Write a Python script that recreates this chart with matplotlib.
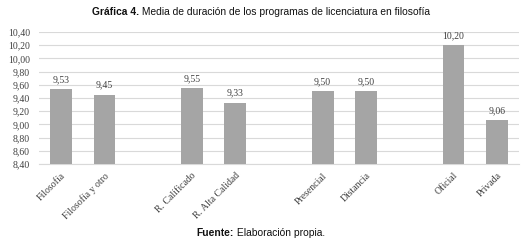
import matplotlib
matplotlib.use("Agg")
import matplotlib.pyplot as plt
import numpy as np

categories = ["Filosofía", "Filosofía y otro", "", "R. Calificado", "R. Alta Calidad", "",
              "Presencial", "Distancia", "", "Oficial", "Privada"]
values = [9.53, 9.45, None, 9.55, 9.33, None, 9.50, 9.50, None, 10.20, 9.06]
yticks = [8.40, 8.60, 8.80, 9.00, 9.20, 9.40, 9.60, 9.80, 10.00, 10.20, 10.40]

W, H = 526, 242
fig = plt.figure(figsize=(W / 100, H / 100), dpi=100)
ax = fig.add_axes([39 / W, 1 - 164 / H, (519 - 39) / W, (164 - 32) / H])

serif = "Liberation Serif"
txtc = "#404040"
x = np.arange(len(categories))
base = yticks[0]
for xi, v in zip(x, values):
    if v is None:
        continue
    ax.bar(xi, v - base, bottom=base, width=0.5, color="#a5a5a5", zorder=3)
    ax.text(xi, v + 0.08, f"{v:.2f}".replace(".", ","), ha="center", va="bottom",
            fontsize=7, family=serif, color=txtc)

ax.set_xlim(-0.5, len(categories) - 0.5)
ax.set_ylim(yticks[0], yticks[-1])
ax.set_yticks(yticks)
ax.set_yticklabels([f"{t:.2f}".replace(".", ",") for t in yticks], family=serif,
                   fontsize=7, color=txtc)
ax.set_xticks([xi for xi, c in zip(x, categories) if c])
ax.set_xticklabels([c for c in categories if c], rotation=45, ha="right",
                   rotation_mode="anchor", family=serif, fontsize=7, color=txtc)
ax.tick_params(axis="both", length=0)
ax.tick_params(axis="x", pad=5)
ax.tick_params(axis="y", pad=6.5)
ax.grid(axis="y", color="#d9d9d9", linewidth=0.8, zorder=0)
for s in ["top", "right", "left"]:
    ax.spines[s].set_visible(False)
ax.spines["bottom"].set_color("#d9d9d9")
ax.spines["bottom"].set_linewidth(0.8)

title_font = "Liberation Sans"
fig.canvas.draw()
r = fig.canvas.get_renderer()

def two_part(y, bold, rest, cx, target_w):
    size = 8.0
    for _ in range(3):
        t1 = fig.text(0, y, bold, fontsize=size, fontweight="bold", family=title_font,
                      va="center", ha="left", color="#111111")
        t2 = fig.text(0, y, rest, fontsize=size, family=title_font, va="center",
                      ha="left", color="#111111")
        w1 = t1.get_window_extent(r).width
        w2 = t2.get_window_extent(r).width
        total = w1 + w2
        if abs(total - target_w) < 2:
            break
        t1.remove(); t2.remove()
        size = size * target_w / total
    x0 = cx - total / 2
    t1.set_x(x0 / W)
    t2.set_x((x0 + w1) / W)

two_part(1 - 12 / H, "Gráfica 4.", " Media de duración de los programas de licenciatura en filosofía", 261, 338)
two_part(1 - 233 / H, "Fuente:", " Elaboración propia.", 260.5, 129)

fig.savefig("out.png", dpi=100)
